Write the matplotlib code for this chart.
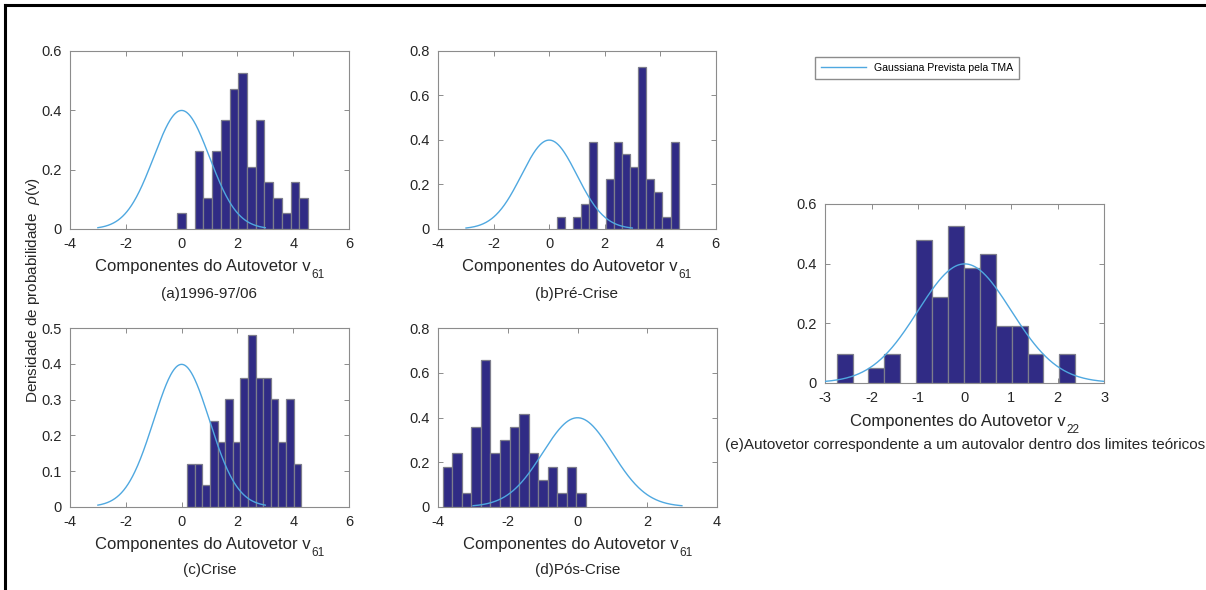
import numpy as np
import matplotlib
matplotlib.use("Agg")
import matplotlib.pyplot as plt
from matplotlib.lines import Line2D

plt.rcParams['font.family'] = ['Liberation Sans', 'DejaVu Sans']
plt.rcParams['mathtext.fontset'] = 'custom'
plt.rcParams['mathtext.rm'] = 'Liberation Sans'
plt.rcParams['mathtext.it'] = 'Liberation Sans:italic'

# ---- data ----
N = 61  # number of eigenvector components

# (a) 1996-97/06
range_a = (-0.155, 4.53)
counts_a = [1, 0, 5, 2, 5, 7, 9, 10, 4, 7, 3, 2, 1, 3, 2]
# (b) Pre-Crise
range_b = (0.277, 4.67)
counts_b = [1, 0, 1, 2, 7, 0, 4, 7, 6, 5, 13, 4, 3, 1, 7]
# (c) Crise
range_c = (0.203, 4.29)
counts_c = [2, 2, 1, 4, 3, 5, 3, 6, 8, 6, 6, 5, 3, 5, 2]
# (d) Pos-Crise
range_d = (-3.875, 0.244)
counts_d = [3, 4, 1, 6, 11, 4, 5, 6, 7, 4, 2, 3, 1, 3, 1]
# (e) eigenvector within theoretical limits
range_e = (-2.749, 2.376)
counts_e = [2, 0, 1, 2, 0, 10, 6, 11, 8, 9, 4, 4, 2, 0, 2]

# theoretical Gaussian (RMT prediction)
gauss_mu, gauss_sigma = 0.0, 1.0
gauss_range = (-3.0, 3.0)

xlim_abc = (-4, 6); xticks_abc = [-4, -2, 0, 2, 4, 6]
xlim_d = (-4, 4); xticks_d = [-4, -2, 0, 2, 4]
xlim_e = (-3, 3); xticks_e = [-3, -2, -1, 0, 1, 2, 3]
ylim_a = (0, 0.6); yticks_a = [0, 0.2, 0.4, 0.6]
ylim_b = (0, 0.8); yticks_b = [0, 0.2, 0.4, 0.6, 0.8]
ylim_c = (0, 0.5); yticks_c = [0, 0.1, 0.2, 0.3, 0.4, 0.5]
ylim_d = (0, 0.8); yticks_d = [0, 0.2, 0.4, 0.6, 0.8]
ylim_e = (0, 0.6); yticks_e = [0, 0.2, 0.4, 0.6]

xlabel_main = 'Componentes do Autovetor v'
xlabel_sub_61 = '61'
xlabel_sub_22 = '22'
captions = ['(a)1996-97/06', '(b)Pré-Crise', '(c)Crise', '(d)Pós-Crise',
            '(e)Autovetor correspondente a um autovalor dentro dos limites teóricos']
ylabel = r'Densidade de probabilidade  $\it{\rho}$(v)'
legend_label = 'Gaussiana Prevista pela TMA'

# ---- style ----
BAR_FACE = '#302B85'
BAR_EDGE = '#7d7d8c'
CURVE = '#4FA8E0'
SPINE = '#8c8c8c'
TXT = '#262626'

W, H = 1206, 590
fig = plt.figure(figsize=(W / 100, H / 100), dpi=100)
renderer = fig.canvas.get_renderer()


def px_axes(l, r, t, b):
    return fig.add_axes([l / W, 1 - b / H, (r - l) / W, (b - t) / H])


def sub_label(ax, main, sub, base_off):
    t1 = ax.annotate(main, xy=(0.5, 0), xycoords='axes fraction',
                     xytext=(0, -base_off), textcoords='offset pixels',
                     ha='left', va='baseline', fontsize=12, color=TXT)
    t2 = ax.annotate(sub, xy=(0.5, 0), xycoords='axes fraction',
                     xytext=(0, -base_off - 7), textcoords='offset pixels',
                     ha='left', va='baseline', fontsize=8.5, color=TXT)
    w1 = t1.get_window_extent(renderer).width
    w2 = t2.get_window_extent(renderer).width
    total = w1 + w2 + 1
    t1.set_position((-total / 2, -base_off))
    t2.set_position((-total / 2 + w1 + 1, -base_off - 7))


def draw(ax, rng, counts, xlim, xticks, ylim, yticks, sub, caption, lab_off, cap_off):
    lo, hi = rng
    n = len(counts)
    w = (hi - lo) / n
    edges = lo + w * np.arange(n)
    dens = np.array(counts) / (N * w)
    for e, d in zip(edges, dens):
        if d > 0:
            ax.bar(e, d, width=w, align='edge', color=BAR_FACE,
                   edgecolor=BAR_EDGE, linewidth=0.9, zorder=2)
    xs = np.linspace(gauss_range[0], gauss_range[1], 300)
    ys = np.exp(-0.5 * ((xs - gauss_mu) / gauss_sigma) ** 2) / (gauss_sigma * np.sqrt(2 * np.pi))
    ax.plot(xs, ys, color=CURVE, lw=1.0, zorder=3)
    ax.set_xlim(*xlim)
    ax.set_ylim(*ylim)
    ax.set_xticks(xticks)
    ax.set_yticks(yticks)
    ax.set_xticklabels([str(t) for t in xticks])
    ax.set_yticklabels([('0' if t == 0 else f'{t:g}') for t in yticks])
    ax.tick_params(direction='in', top=True, right=True, length=3.5,
                   width=0.7, color=SPINE, labelsize=10.5, labelcolor=TXT, pad=6)
    for s in ax.spines.values():
        s.set_color(SPINE)
        s.set_linewidth(0.8)
    sub_label(ax, xlabel_main, sub, lab_off)
    ax.annotate(caption, xy=(0.5, 0), xycoords='axes fraction',
                xytext=(0, -cap_off), textcoords='offset pixels',
                ha='center', va='center', fontsize=11, color=TXT)


ax_a = px_axes(70, 349, 50.7, 229)
ax_b = px_axes(438.3, 715.5, 50.7, 229)
ax_c = px_axes(70, 349, 328.3, 506.7)
ax_d = px_axes(438.3, 716.7, 328.3, 506.7)
ax_e = px_axes(825, 1104.3, 204, 382.7)

draw(ax_a, range_a, counts_a, xlim_abc, xticks_abc, ylim_a, yticks_a, xlabel_sub_61, captions[0], 42, 65)
draw(ax_b, range_b, counts_b, xlim_abc, xticks_abc, ylim_b, yticks_b, xlabel_sub_61, captions[1], 42, 65)
draw(ax_c, range_c, counts_c, xlim_abc, xticks_abc, ylim_c, yticks_c, xlabel_sub_61, captions[2], 42, 63)
draw(ax_d, range_d, counts_d, xlim_d, xticks_d, ylim_d, yticks_d, xlabel_sub_61, captions[3], 42, 63)
draw(ax_e, range_e, counts_e, xlim_e, xticks_e, ylim_e, yticks_e, xlabel_sub_22, captions[4], 43, 62)

fig.text(33 / W, 1 - 290 / H, ylabel, rotation=90, ha='center', va='center',
         fontsize=11, color=TXT)

handle = Line2D([], [], color=CURVE, lw=1.0)
fig.legend([handle], [legend_label], loc='upper left',
           bbox_to_anchor=(815 / W, 1 - 57 / H), fontsize=7.6, frameon=True,
           fancybox=False, edgecolor=SPINE, framealpha=1, handlelength=4.3,
           borderpad=0.55, handletextpad=0.7, borderaxespad=0)

# figure border (left and top)
fig.add_artist(Line2D([5 / W, 5 / W], [0, 1 - 5 / H], transform=fig.transFigure, color='black', lw=2.2))
fig.add_artist(Line2D([5 / W, 1], [1 - 5 / H, 1 - 5 / H], transform=fig.transFigure, color='black', lw=2.2))

fig.savefig('out.png', dpi=100)
